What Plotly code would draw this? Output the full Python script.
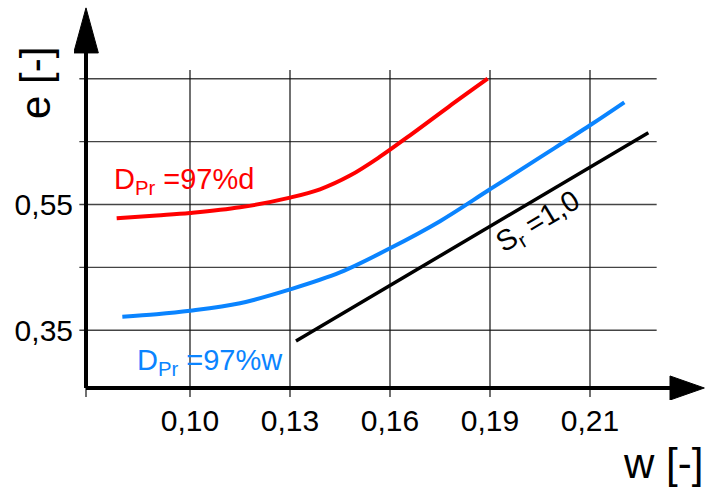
import plotly.graph_objects as go

# ---- data -------------------------------------------------------------
# D_Pr = 97 % on the dry side
red_w = [0.078, 0.090, 0.100, 0.115, 0.130, 0.139, 0.148, 0.157, 0.166, 0.1775, 0.1893]
red_e = [0.528, 0.5325, 0.5365, 0.5455, 0.561, 0.5742, 0.596, 0.626, 0.660, 0.705, 0.750]

# D_Pr = 97 % on the wet side
blue_w = [0.0797, 0.090, 0.100, 0.115, 0.130, 0.145, 0.160, 0.175, 0.190, 0.205, 0.220, 0.2303]
blue_e = [0.3716, 0.3755, 0.381, 0.393, 0.415, 0.442, 0.4804, 0.5235, 0.5742, 0.625, 0.676, 0.7125]

# saturation line S_r = 1,0
sat_w = [0.1318, 0.2375]
sat_e = [0.333, 0.664]

x_ticks = [0.10, 0.13, 0.16, 0.19, 0.22]
x_tick_text = ["0,10", "0,13", "0,16", "0,19", "0,21"]
y_ticks = [0.35, 0.55]
y_tick_text = ["0,35", "0,55"]
y_grid = [0.35, 0.45, 0.55, 0.65, 0.75]

# ---- frame geometry (data units) ---------------------------------------
X_RANGE = [0.0652, 0.2545]
Y_RANGE = [0.2392, 0.8672]
AX_W = 0.0688          # position of the vertical axis
AX_E = 0.2583          # position of the horizontal axis
GRID_W = [0.0668, 0.240]
GRID_E = [0.244, 0.7638]

FONT = "Arial, Liberation Sans, sans-serif"

fig = go.Figure()
fig.add_trace(go.Scatter(x=red_w, y=red_e, mode="lines",
                         line=dict(color="#ff0000", width=4, shape="spline", smoothing=1.0), hoverinfo="skip"))
fig.add_trace(go.Scatter(x=blue_w, y=blue_e, mode="lines",
                         line=dict(color="#0a84ff", width=4, shape="spline", smoothing=1.0), hoverinfo="skip"))
fig.add_trace(go.Scatter(x=sat_w, y=sat_e, mode="lines", line=dict(color="#000000", width=3.5), hoverinfo="skip"))

shapes = []
# grid
for e in y_grid:
    shapes.append(dict(type="line", xref="x", yref="y", x0=GRID_W[0], x1=GRID_W[1], y0=e, y1=e,
                       line=dict(color="#444444", width=1.4), layer="below"))
for w in x_ticks:
    shapes.append(dict(type="line", xref="x", yref="y", x0=w, x1=w, y0=GRID_E[0], y1=GRID_E[1],
                       line=dict(color="#111111", width=1.2), layer="below"))
# small tick below the origin
shapes.append(dict(type="line", xref="x", yref="y", x0=AX_W, x1=AX_W, y0=GRID_E[0], y1=AX_E,
                   line=dict(color="#111111", width=1.2), layer="below"))
# axes with arrow heads
shapes.append(dict(type="line", xref="x", yref="y", x0=AX_W, x1=0.2445, y0=AX_E, y1=AX_E,
                   line=dict(color="black", width=4)))
shapes.append(dict(type="line", xref="x", yref="y", x0=AX_W, x1=AX_W, y0=AX_E, y1=0.792,
                   line=dict(color="black", width=4)))
shapes.append(dict(type="path", xref="x", yref="y",
                   path=f"M {AX_W - 0.0037},0.791 L {AX_W + 0.0037},0.791 L {AX_W},0.8626 Z",
                   fillcolor="black", line=dict(color="black", width=1)))
shapes.append(dict(type="path", xref="x", yref="y",
                   path=f"M 0.244,{AX_E - 0.0191} L 0.244,{AX_E + 0.0191} L 0.2543,{AX_E} Z",
                   fillcolor="black", line=dict(color="black", width=1)))

annotations = [
    dict(text="D<sub>Pr</sub> =97%d", x=0.0765, y=0.5874, xref="x", yref="y", xanchor="left", yanchor="middle",
         showarrow=False, font=dict(family=FONT, size=29, color="#ff0000")),
    dict(text="D<sub>Pr</sub> =97%w", x=0.0836, y=0.300, xref="x", yref="y", xanchor="left", yanchor="middle",
         showarrow=False, font=dict(family=FONT, size=29, color="#0a84ff")),
    dict(text="S<sub>r</sub> =1,0", x=0.2044, y=0.5206, xref="x", yref="y", xanchor="center", yanchor="middle",
         textangle=-31, showarrow=False, font=dict(family=FONT, size=29, color="black")),
    dict(text="e [-]", x=-0.0618, y=0.8025, xref="paper", yref="paper", xanchor="center", yanchor="middle",
         textangle=-90, showarrow=False, font=dict(family=FONT, size=42, color="black")),
    dict(text="w [-]", x=0.9334, y=-0.162, xref="paper", yref="paper", xanchor="center", yanchor="middle",
         showarrow=False, font=dict(family=FONT, size=42, color="black")),
]

fig.update_layout(
    width=705, height=488,
    margin=dict(l=74, r=0, t=5, b=88),
    paper_bgcolor="white", plot_bgcolor="white",
    showlegend=False,
    shapes=shapes, annotations=annotations,
    font=dict(family=FONT, size=30, color="black"),
    xaxis=dict(range=X_RANGE, tickvals=x_ticks, ticktext=x_tick_text, showgrid=False, zeroline=False,
               showline=False, ticks="", tickfont=dict(size=30)),
    yaxis=dict(range=Y_RANGE, tickvals=y_ticks, ticktext=y_tick_text, showgrid=False, zeroline=False,
               showline=False, ticks="", tickfont=dict(size=30)),
)

fig.write_html("out.html")
